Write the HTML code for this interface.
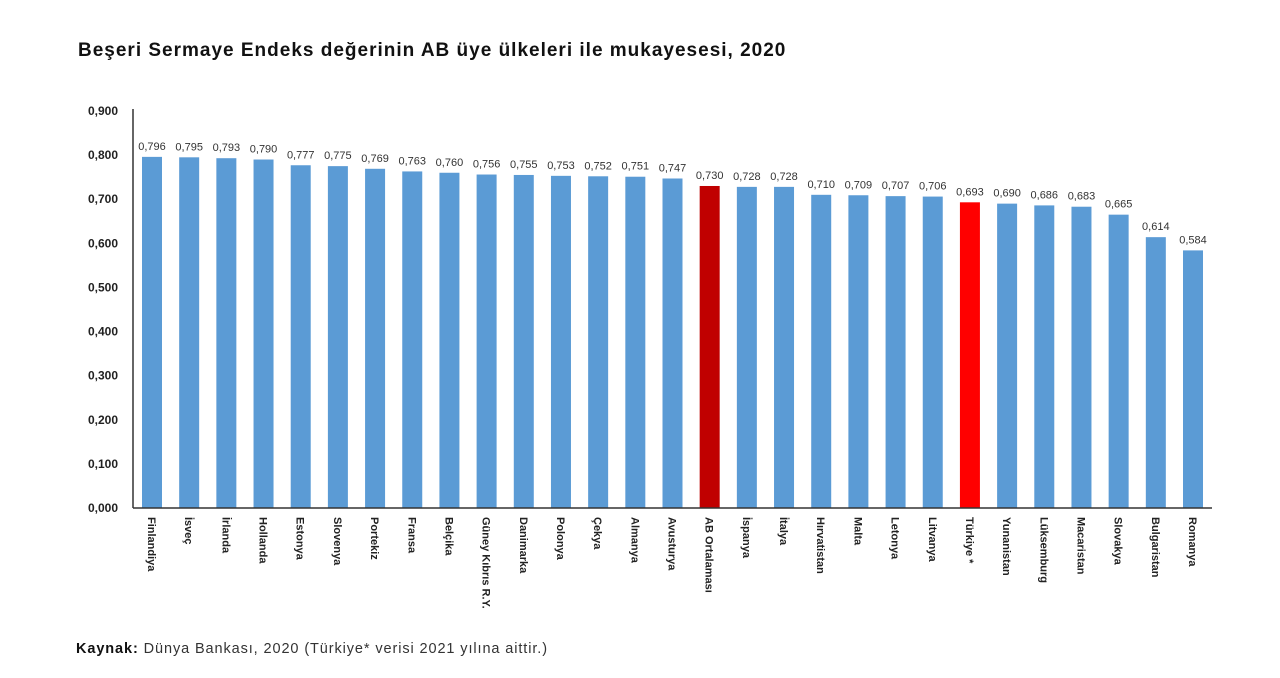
<!DOCTYPE html>
<html><head><meta charset="utf-8"><style>
body{margin:0;background:#fff;width:1280px;height:673px;overflow:hidden;font-family:"Liberation Sans",sans-serif}
svg text{font-family:"Liberation Sans",sans-serif}
</style></head><body>
<svg id="chart" width="1280" height="673">
<text x="78" y="56" font-size="19" letter-spacing="1" font-weight="bold" fill="#111">Beşeri Sermaye Endeks değerinin AB üye ülkeleri ile mukayesesi, 2020</text>
<text x="76" y="653" font-size="14.5" letter-spacing="0.9" fill="#333"><tspan font-weight="bold" fill="#111">Kaynak:</tspan> Dünya Bankası, 2020 (Türkiye* verisi 2021 yılına aittir.)</text>
<g id="g"></g>
</svg>
<script>
const categories=["Finlandiya","İsveç","İrlanda","Hollanda","Estonya","Slovenya","Portekiz","Fransa","Belçika","Güney Kıbrıs R.Y.","Danimarka","Polonya","Çekya","Almanya","Avusturya","AB Ortalaması","İspanya","İtalya","Hırvatistan","Malta","Letonya","Litvanya","Türkiye *","Yunanistan","Lüksemburg","Macaristan","Slovakya","Bulgaristan","Romanya"];
const values=[0.796,0.795,0.793,0.790,0.777,0.775,0.769,0.763,0.760,0.756,0.755,0.753,0.752,0.751,0.747,0.730,0.728,0.728,0.710,0.709,0.707,0.706,0.693,0.690,0.686,0.683,0.665,0.614,0.584];
const ticks=[0,0.1,0.2,0.3,0.4,0.5,0.6,0.7,0.8,0.9];
const NS="http://www.w3.org/2000/svg",g=document.getElementById('g');
const y0=508,ymax=111;
const y=v=>y0-(v/0.9)*(y0-ymax);
const x=i=>152+i*(1193-152)/(categories.length-1);
function mk(t,a,p){const e=document.createElementNS(NS,t);for(const k in a)e.setAttribute(k,a[k]);(p||g).appendChild(e);return e;}
ticks.forEach(t=>{const e=mk('text',{x:118,y:y(t)+4,'text-anchor':'end','font-size':12,'font-weight':'bold',fill:'#222'});e.textContent=t.toFixed(3).replace('.',',');

});
values.forEach((v,i)=>{
const c=categories[i];const red=c==="AB Ortalaması"||c==="Türkiye *";
const r=mk('rect',{x:x(i)-10,y:y(v),width:20,height:y0-y(v),fill:red?(c==="AB Ortalaması"?'#c00000':'#ff0000'):'#5b9bd5'});


const l=mk('text',{x:x(i),y:y(v)-7,'text-anchor':'middle','font-size':11,fill:'#333'});l.textContent=v.toFixed(3).replace('.',',');


const t=mk('text',{transform:`translate(${x(i)-4},517) rotate(90)`,'font-size':11,'font-weight':'bold',fill:'#222'});t.textContent=c;


});
const ax=mk('line',{x1:133,y1:ymax-2,x2:133,y2:y0,stroke:'#333','stroke-width':1.5});


const bx=mk('line',{x1:133,y1:y0,x2:1212,y2:y0,stroke:'#333','stroke-width':1.5});


</script>
</body></html>
